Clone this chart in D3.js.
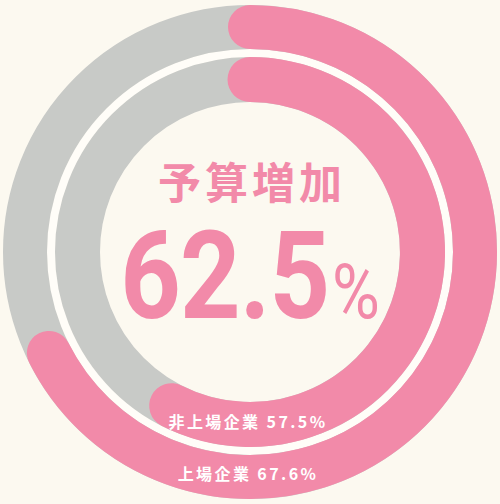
<!DOCTYPE html>
<html>
<head>
<meta charset="utf-8">
<script src="https://cdn.jsdelivr.net/npm/d3@7"></script>
<style>
  html, body { margin: 0; padding: 0; background: #fcf9f0; }
  svg { display: block; }
</style>
</head>
<body>
<svg id="chart" width="500" height="504"></svg>
<script>
// data
const seriesNames = ["上場企業", "非上場企業"];
const seriesValues = [67.6, 57.5];
const centerTitle = "予算増加";
const centerValue = 62.5;

const width = 500, height = 504;
const cx = 250, cy = 252;
const ringRadius = [225, 172.5];
const ringWidth = [44, 45];
const pink = "#f28aa9";
const gray = "#c8cac7";

var svg = d3.select("#chart");
var g = svg.append("g").attr("transform", `translate(${cx},${cy})`);

const angle = d3.scaleLinear().domain([0, 100]).range([0, 2 * Math.PI]);

function arcPath(r, v) {
	const p = d3.path();
	p.arc(0, 0, r, -Math.PI / 2, angle(v) - Math.PI / 2);
	return p.toString();
}

// thin light separator between rings
g.append("circle")
	.attr("r", (ringRadius[0] - ringWidth[0] / 2 + ringRadius[1] + ringWidth[1] / 2) / 2)
	.attr("fill", "none")
	.attr("stroke", "#fffdf8")
	.attr("stroke-width", 8);

// gray tracks
g.selectAll(".track")
	.data(seriesValues)
	.enter()
	.append("circle")
	.attr("class", "track")
	.attr("r", (d, i) => ringRadius[i])
	.attr("fill", "none")
	.attr("stroke", gray)
	.attr("stroke-width", (d, i) => ringWidth[i]);

// value arcs
g.selectAll(".value")
	.data(seriesValues)
	.enter()
	.append("path")
	.attr("class", "value")
	.attr("d", (d, i) => arcPath(ringRadius[i], d))
	.attr("fill", "none")
	.attr("stroke", pink)
	.attr("stroke-width", (d, i) => ringWidth[i])
	.attr("stroke-linecap", "round");

// ring labels at the bottom
g.selectAll(".label")
	.data(seriesValues)
	.enter()
	.append("text")
	.attr("class", "label")
	.attr("x", -2)
	.attr("y", (d, i) => ringRadius[i] - 4)
	.attr("text-anchor", "middle")
	.attr("dominant-baseline", "central")
	.attr("fill", "#ffffff")
	.attr("font-family", "'Noto Sans CJK JP', sans-serif")
	.attr("font-weight", 700)
	.attr("font-size", 16)
	.attr("letter-spacing", 2.4)
	.text((d, i) => `${seriesNames[i]} ${d.toFixed(1)}%`);

// center text
g.append("text")
	.attr("x", 2)
	.attr("y", -72)
	.attr("text-anchor", "middle")
	.attr("dominant-baseline", "central")
	.attr("fill", pink)
	.attr("font-family", "'Noto Sans CJK JP', sans-serif")
	.attr("font-weight", 700)
	.attr("font-size", 43)
	.attr("letter-spacing", 4)
	.text(centerTitle);

// big number, slightly condensed
const big = g.append("g")
	.attr("transform", "translate(0,66) scale(0.86,1)")
	.append("text")
	.attr("x", 0)
	.attr("y", 0)
	.attr("text-anchor", "middle")
	.attr("fill", pink)
	.attr("font-family", "Roboto, sans-serif");
big.append("tspan")
	.attr("font-weight", 700)
	.attr("font-size", 123)
	.attr("letter-spacing", -1)
	.text(centerValue.toFixed(1));
big.append("tspan")
	.attr("font-weight", 400)
	.attr("font-size", 76)
	.attr("dx", 3)
	.text("%");
</script>
</body>
</html>
